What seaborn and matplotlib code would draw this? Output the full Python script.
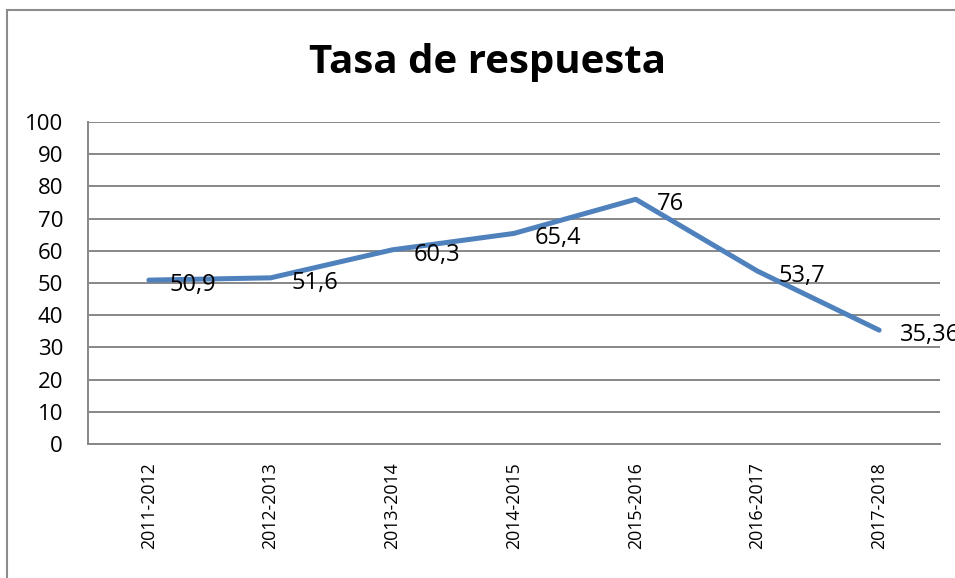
import pandas as pd
import matplotlib
matplotlib.use("Agg")
import matplotlib.pyplot as plt
import seaborn as sns
from matplotlib.patches import Rectangle

# Chart data
periods = ["2011-2012", "2012-2013", "2013-2014", "2014-2015",
           "2015-2016", "2016-2017", "2017-2018"]
rates = [50.9, 51.6, 60.3, 65.4, 76, 53.7, 35.36]
y_ticks = [0, 10, 20, 30, 40, 50, 60, 70, 80, 90, 100]
title = "Tasa de respuesta"

LINE_COLOR = "#4F81BD"
GRID_COLOR = "#878787"


def fmt(v):
    """Spanish decimal format: comma as decimal separator."""
    return f"{v:g}".replace(".", ",")


sns.set_theme(style="white")
plt.rcParams["font.family"] = ["Open Sans", "DejaVu Sans"]

data = pd.DataFrame({"periodo": periods, "tasa": rates})

fig = plt.figure(figsize=(9.55, 5.78), dpi=100)
ax = fig.add_axes([88 / 955, 1 - 444 / 578, 852 / 955, 322 / 578])

sns.lineplot(data=data, x="periodo", y="tasa", sort=False, ax=ax,
             color=LINE_COLOR, linewidth=3.6, solid_capstyle="round")

ax.set_xlim(-0.5, len(periods) - 0.5)
ax.set_ylim(0, 100)
ax.set_yticks(y_ticks)
ax.set_yticklabels([str(t) for t in y_ticks], fontsize=16)
ax.set_xticks(range(len(periods)))
ax.set_xticklabels(periods, rotation=90, fontsize=12.8)
ax.tick_params(axis="y", length=0, pad=18, colors="black")
ax.tick_params(axis="x", length=0, pad=13, colors="black")
ax.set_xlabel("")
ax.set_ylabel("")

ax.grid(axis="y", color=GRID_COLOR, linewidth=1.4)
ax.grid(axis="x", visible=False)
ax.set_axisbelow(True)
for side in ["top", "right"]:
    ax.spines[side].set_visible(False)
for side in ["left", "bottom"]:
    ax.spines[side].set_color(GRID_COLOR)
    ax.spines[side].set_linewidth(1.4)

# data labels to the right of each point
for i, v in enumerate(rates):
    ax.annotate(fmt(v), (i, v), xytext=(21, -5), textcoords="offset pixels",
                ha="left", va="center", fontsize=17, color="black",
                annotation_clip=False)

fig.text(487 / 955, 1 - 62 / 578, title, ha="center", va="center",
         fontsize=29, fontweight="bold", color="black")

# chart frame
fig.patches.append(Rectangle((7 / 955, -0.05), 1.0, 1 - 10 / 578 + 0.05,
                             transform=fig.transFigure, fill=False,
                             edgecolor="#8C8C8C", linewidth=1.5))

fig.savefig("out.png", dpi=100)
